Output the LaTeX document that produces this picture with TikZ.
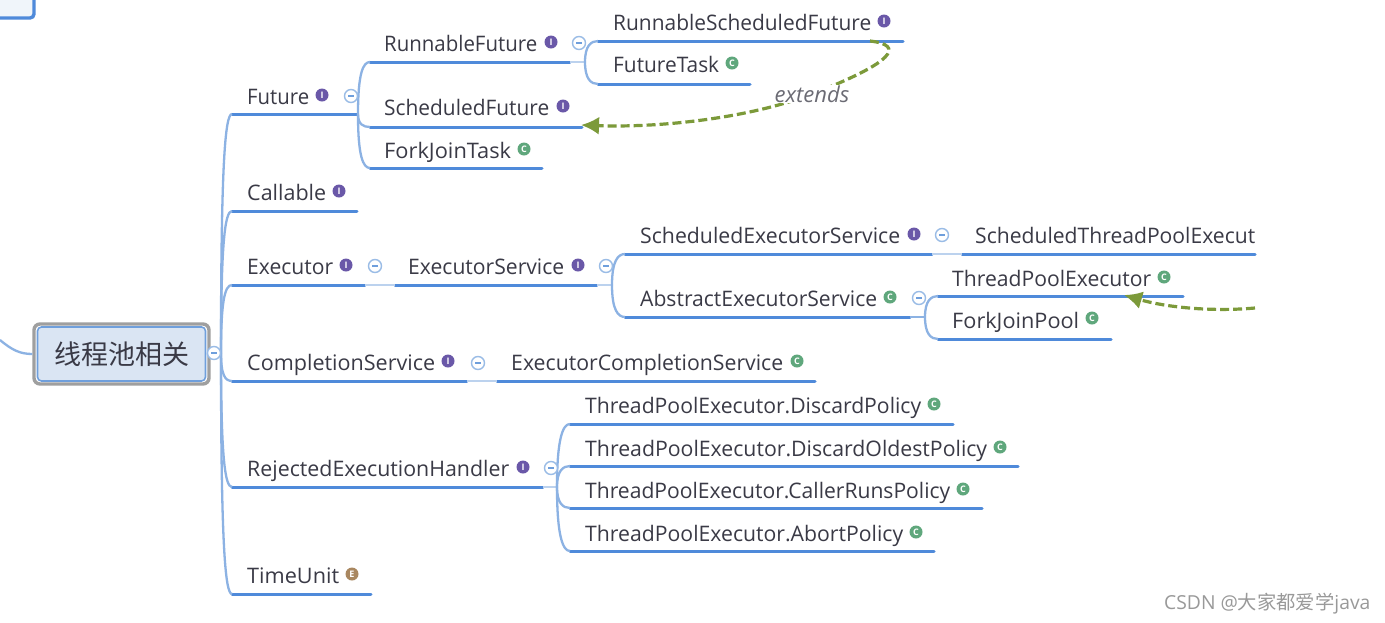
\documentclass[tikz,border=0pt]{standalone}
\usepackage{graphicx}
\usepackage{fontspec}
\setmainfont{Open Sans}
\newfontfamily\cjk{Noto Sans CJK SC}
\usetikzlibrary{arrows.meta,calc}
\definecolor{linkb}{HTML}{6F9FDC}
\definecolor{lineb}{HTML}{4F8ADA}
\definecolor{paleb}{HTML}{BCD2EE}
\definecolor{rootfill}{HTML}{DAE5F3}
\definecolor{txt}{HTML}{3A3A46}
\definecolor{ipur}{HTML}{6A58A8}
\definecolor{cgrn}{HTML}{5FA77C}
\definecolor{ebrn}{HTML}{A98760}
\definecolor{dgrn}{HTML}{7C9A3A}
\tikzset{
  label/.style={inner sep=0pt,anchor=base west,text=txt,font=\fontsize{21.4}{25}\selectfont},
  under/.style={draw=lineb,line width=3pt,line cap=round},
  branch/.style={draw=linkb!80,line width=2.3pt},
  pale/.style={draw=paleb,line width=2.4pt},
  icon/.style={circle,inner sep=0pt,minimum size=13pt,text=white,font=\bfseries\fontsize{9}{9}\selectfont},
  fold/.style={circle,draw=linkb!70,fill=white,line width=1.4pt,inner sep=0pt,minimum size=13pt},
  rel/.style={draw=dgrn,line width=3.2pt,dash pattern=on 9pt off 4pt},
  relhead/.style={-{Latex[length=18pt,width=18pt]}}
}
% name, text x, text y, line x0, line x1, line y, text, text right end
\newcommand{\topic}[8]{%
  \node[label] (#1) at (#2,{#3+8}) {\resizebox{\dimexpr #8pt-#2pt\relax}{\height}{#7}};
  \coordinate (#1-a) at (#4,#6);
  \coordinate (#1-b) at (#5,#6);
  \draw[under] (#1-a) -- (#1-b);
}
\newcommand{\link}[2]{%
  \draw[branch] (#1) .. controls ($(#1)!0.78!(#1 |- #2)$) and ($(#2)+(-7,0)$) .. (#2);
}
\begin{document}
\begin{tikzpicture}[x=1pt,y=-1pt]
\useasboundingbox (0,0) rectangle (1385,622);
\fill[white] (0,0) rectangle (1385,622);
\path[clip] (0,0) rectangle (1385,622);

% box cut by the top-left corner
\draw[draw=lineb,line width=3.4pt,fill=rootfill!40,rounded corners=4pt] (-20,-12) rectangle (34,18);

% root
\node[draw=gray!75,line width=3.4pt,rounded corners=6pt,minimum width=175pt,minimum height=60pt,inner sep=0pt] (rootO) at (121.5,354) {};
\node[draw=linkb,line width=1.6pt,fill=rootfill,rounded corners=4pt,minimum width=168pt,minimum height=54pt,inner sep=0pt,text=txt,font=\cjk\fontsize{27}{30}\selectfont] (root) at (121.5,354) {\raisebox{-1pt}{线程池相关}};
\coordinate (inL) at (0,340);
\draw[branch] (inL) .. controls (12,350) and (20,354) .. (rootO.west);
\coordinate (hub) at (221,353);
\draw[pale] (root.east) -- (hub);

% level 1
\topic{future}{247}{96}{232}{357}{114}{Future}{309}
\topic{callable}{247}{192}{232}{357}{211}{Callable}{326}
\topic{executor}{247}{266}{232}{365}{285}{Executor}{333}
\topic{completion}{247}{362}{232}{467}{381}{CompletionService}{435}
\topic{rejected}{247}{468}{232}{543}{487}{RejectedExecutionHandler}{509}
\topic{timeunit}{247}{575}{232}{371}{594}{TimeUnit}{339}
\link{hub}{future-a}
\link{hub}{callable-a}
\link{hub}{executor-a}
\link{hub}{completion-a}
\link{hub}{rejected-a}
\link{hub}{timeunit-a}

% future children
\topic{runnablef}{384}{43}{370}{570}{62}{RunnableFuture}{537}
\topic{schedf}{384}{107}{370}{582}{127}{ScheduledFuture}{549}
\topic{fjtask}{384}{150}{370}{542}{168}{ForkJoinTask}{511}
\coordinate (fhub) at (358,114);
\link{fhub}{runnablef-a}
\link{fhub}{schedf-a}
\link{fhub}{fjtask-a}

% runnable children
\topic{rsf}{613}{22}{598}{903}{41}{RunnableScheduledFuture}{871}
\topic{ftask}{613}{64}{598}{750}{84}{FutureTask}{719}
\coordinate (rhub) at (585,62);
\draw[pale] (runnablef-b) -- (rhub);
\link{rhub}{rsf-a}
\link{rhub}{ftask-a}

% executor chain
\topic{execserv}{408}{266}{395}{597}{285}{ExecutorService}{564}
\draw[pale] (executor-b) -- (execserv-a);
\coordinate (ehub) at (612,285);
\draw[pale] (execserv-b) -- (ehub);
\topic{ses}{640}{235}{625}{932}{254}{ScheduledExecutorService}{900}
\topic{aes}{640}{298}{625}{910}{317}{AbstractExecutorService}{877}
\link{ehub}{ses-a}
\link{ehub}{aes-a}
\topic{stpe}{975}{235}{962}{1255}{254}{ScheduledThreadPoolExecut}{1255}
\draw[pale] (ses-b) -- (stpe-a);
\topic{tpe}{952}{278}{938}{1183}{296}{ThreadPoolExecutor}{1151}
\topic{fjp}{952}{320}{938}{1111}{339}{ForkJoinPool}{1079}
\coordinate (ahub) at (925,317);
\draw[branch] (aes-b) -- (ahub);
\link{ahub}{tpe-a}
\link{ahub}{fjp-a}

% completion
\topic{ecs}{511}{362}{497}{815}{381}{ExecutorCompletionService}{783}
\draw[pale] (completion-b) -- (ecs-a);

% rejected children
\topic{dp}{585}{405}{570}{953}{424}{ThreadPoolExecutor.DiscardPolicy}{921}
\topic{dop}{585}{448}{570}{1018}{466}{ThreadPoolExecutor.DiscardOldestPolicy}{987}
\topic{crp}{585}{490}{570}{982}{508}{ThreadPoolExecutor.CallerRunsPolicy}{950}
\topic{ap}{585}{533}{570}{934}{551}{ThreadPoolExecutor.AbortPolicy}{903}
\coordinate (xhub) at (557,487);
\draw[pale] (rejected-b) -- (xhub);
\link{xhub}{dp-a}
\link{xhub}{dop-a}
\link{xhub}{crp-a}
\link{xhub}{ap-a}

% icons
\foreach \n/\x/\y/\l/\c in {
 i1/322/95/I/ipur, i2/339/191/I/ipur, i3/346/265/I/ipur, i4/448/361/I/ipur, i5/523/467/I/ipur,
 i6/352/574/E/ebrn, i7/551/42/I/ipur, i8/563/106/I/ipur, i9/524/149/C/cgrn, i10/884/21/I/ipur,
 i11/732/63/C/cgrn, i12/914/234/I/ipur, i13/890/297/C/cgrn, i14/1164/277/C/cgrn, i15/1092/318/C/cgrn,
 i16/797/361/C/cgrn, i17/934/404/C/cgrn, i18/1000/447/C/cgrn, i19/963/489/C/cgrn, i20/916/532/C/cgrn, i21/578/265/I/ipur}{
  \node[icon,fill=\c] (\n) at (\x,\y) {\l};
}

% fold markers
\foreach \n/\x/\y in {f0/214/353,f1/351/96,f2/579/43,f3/375/266,f4/606/266,f5/942/235,f6/919/298,f7/478/363,f8/551/468}{
  \node[fold] (\n) at (\x,\y) {};
  \draw[linkb,line width=1.2pt] ($(\n)+(-3,0)$) -- ($(\n)+(3,0)$);
}

% relationships
\coordinate (r1s) at (870,41);
\coordinate (r1e) at (581,125);
\coordinate (r1m) at (812,94);
\draw[rel,relhead] (r1s) .. controls (905,45) and (895,62) .. (812,94) .. controls (750,118) and (660,128) .. (r1e);
\node[inner sep=1pt,fill=white,text=txt!75,font=\itshape\fontsize{22}{24}\selectfont] (extlab) at (r1m) {extends};
\coordinate (r2s) at (1255,308);
\coordinate (r2e) at (1124,295);
\draw[rel,relhead] (r2s) .. controls (1210,312) and (1165,307) .. (r2e);

% watermark
\node[inner sep=0pt,anchor=west,text=gray!80,font=\fontsize{19.3}{22}\selectfont] (wm) at (1164,604) {CSDN @{\cjk 大家都爱学}java};
\end{tikzpicture}
\end{document}
